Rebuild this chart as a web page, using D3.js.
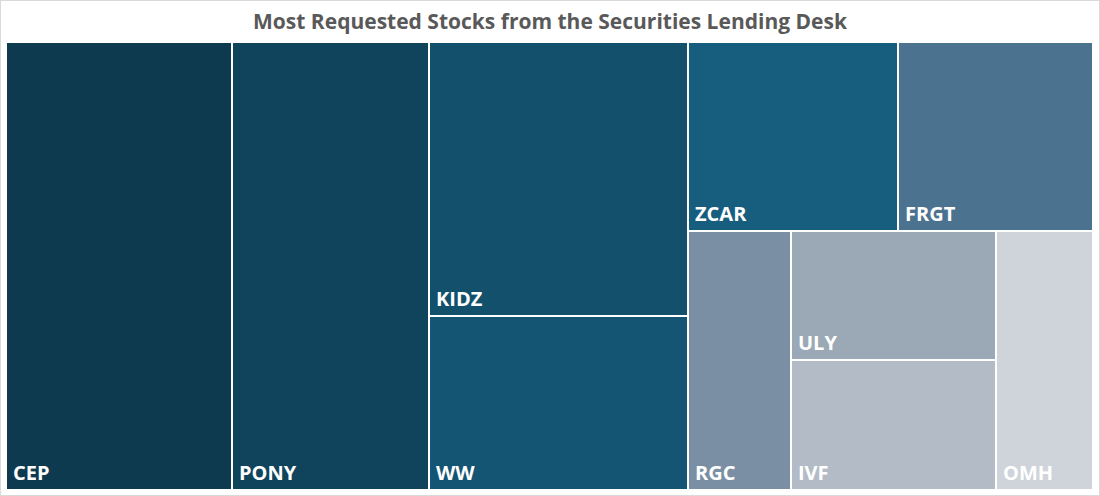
<!DOCTYPE html>
<html><head><meta charset="utf-8">
<script src="https://cdn.jsdelivr.net/npm/d3@7"></script>
<style>body{margin:0;background:#fff;font-family:"Open Sans",Lato,sans-serif}</style>
</head><body>
<script>
// stock tickers and relative request volumes
var tickers = ["CEP","PONY","KIDZ","WW","ZCAR","FRGT","RGC","ULY","IVF","OMH"]
var values  = [100, 87, 70, 44.6, 39, 36.3, 26.2, 26.2, 26.2, 24.9]
var colors  = ["#0d3a4f","#0f445c","#12506b","#135572","#165d7e","#4b7390","#7a8fa3","#9aa9b5","#b3bcc6","#cfd4db"]

var W = 1100, H = 496
var svg = d3.select("body").append("svg").attr("width", W).attr("height", H)

svg.append("rect").attr("x",0.5).attr("y",0.5).attr("width",W-1).attr("height",H-1)
	.attr("fill","none").attr("stroke","#d9d9d9")

svg.append("text").attr("x", W/2).attr("y", 29).attr("text-anchor","middle")
	.attr("font-size", 21).attr("font-weight","bold").attr("fill","#595959")
	.text("Most Requested Stocks from the Securities Lending Desk")

function leaf(i) { return {name: tickers[i], value: values[i], color: colors[i]} }
// grouping to reproduce the slice/dice arrangement of the original
var tree = {children: [
	leaf(0), leaf(1),
	{children: [leaf(2), leaf(3)]},
	{children: [
		{children: [leaf(4), leaf(5)]},
		{children: [leaf(6), {children: [leaf(7), leaf(8)]}, leaf(9)]}
	]}
]}

var root = d3.hierarchy(tree).sum(function(d){ return d.value || 0 })
d3.treemap().tile(d3.treemapSliceDice).size([1085, 446]).paddingInner(2).round(true)(root)

var g = svg.append("g").attr("transform","translate(7,43)")
var cell = g.selectAll("g").data(root.leaves()).join("g")
	.attr("transform", function(d){ return "translate(" + d.x0 + "," + d.y0 + ")" })

cell.append("rect")
	.attr("width", function(d){ return d.x1 - d.x0 })
	.attr("height", function(d){ return d.y1 - d.y0 })
	.attr("fill", function(d){ return d.data.color })

cell.append("text").attr("x", 6).attr("y", function(d){ return d.y1 - d.y0 - 9 })
	.attr("font-size", 20).attr("font-weight","bold").attr("fill","#fff")
	.text(function(d){ return d.data.name })
</script>
</body></html>
